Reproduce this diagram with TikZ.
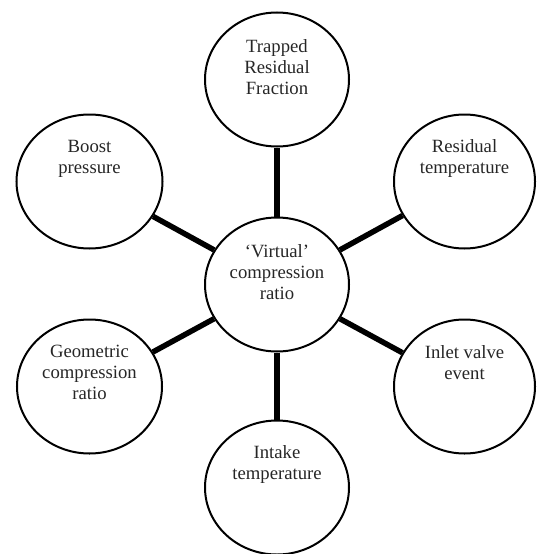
\documentclass[tikz,border=0pt]{standalone}
\usepackage{fontspec}
\setmainfont{Liberation Serif}
\usetikzlibrary{shapes.geometric}
\begin{document}
\begin{tikzpicture}[x=1pt,y=-1pt,
  bub/.style={draw=black, line width=2pt, ellipse, inner sep=0pt,
    minimum width=#1, minimum height=134pt},
  lbl/.style={anchor=base, inner sep=0pt, text=black!85,
    font=\fontsize{18.7}{21}\selectfont},
  conn/.style={draw=black, line width=5.5pt}]
\useasboundingbox (0,0) rectangle (536,554);
% bubbles
\node[bub=144pt] (C) at (277,284.5) {};
\node[bub=144pt] (T) at (277,79.5) {};
\node[bub=146pt] (B) at (89.5,181.5) {};
\node[bub=141pt] (R) at (464.5,181.5) {};
\node[bub=145pt] (G) at (89.5,386.5) {};
\node[bub=141pt] (I) at (464.5,386.5) {};
\node[bub=144pt] (K) at (277,487.5) {};
% connectors
\draw[conn] (C) -- (T);
\draw[conn] (C) -- (B);
\draw[conn] (C) -- (R);
\draw[conn] (C) -- (G);
\draw[conn] (C) -- (I);
\draw[conn] (C) -- (K);
% labels
\node[lbl] (tC) at (277,257) {\begin{tabular}[t]{@{}c@{}}`Virtual'\\compression\\ratio\end{tabular}};
\node[lbl] (tT) at (277,52) {\begin{tabular}[t]{@{}c@{}}Trapped\\Residual\\Fraction\end{tabular}};
\node[lbl] (tB) at (89.5,152) {\begin{tabular}[t]{@{}c@{}}Boost\\pressure\end{tabular}};
\node[lbl] (tR) at (464.5,152) {\begin{tabular}[t]{@{}c@{}}Residual\\temperature\end{tabular}};
\node[lbl] (tG) at (89.5,357) {\begin{tabular}[t]{@{}c@{}}Geometric\\compression\\ratio\end{tabular}};
\node[lbl] (tI) at (464.5,358) {\begin{tabular}[t]{@{}c@{}}Inlet valve\\event\end{tabular}};
\node[lbl] (tK) at (277,458) {\begin{tabular}[t]{@{}c@{}}Intake\\temperature\end{tabular}};
\end{tikzpicture}
\end{document}
